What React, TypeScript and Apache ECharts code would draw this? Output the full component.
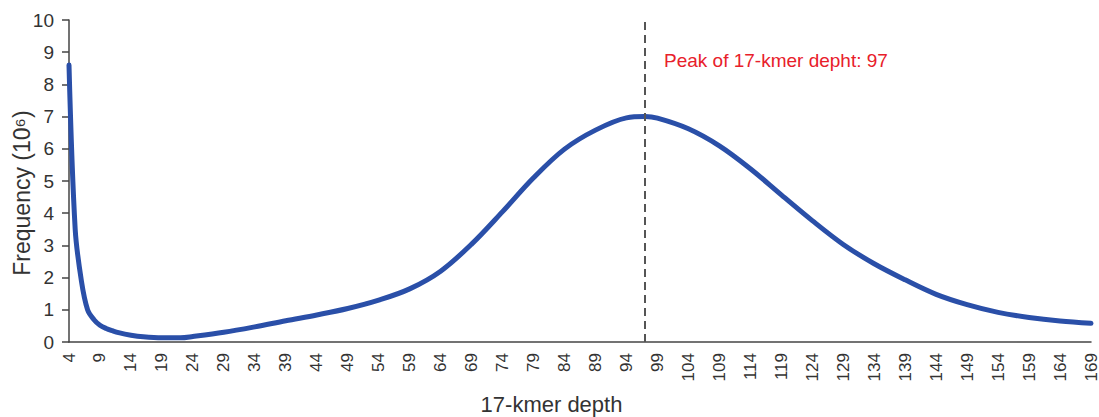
import React, { useEffect, useRef } from "react";
import * as echarts from "echarts";

const depthCategories: string[] = Array.from({ length: 166 }, (_, i) => String(i + 4));

const sampleDepths: number[] = [
  4, 5, 6, 7, 8, 9, 10, 11, 12, 14, 16, 19, 22, 24, 29, 34, 39, 44, 49, 54, 59, 64,
  69, 74, 79, 84, 89, 94, 97, 99, 104, 109, 114, 119, 124, 129, 134, 139, 144, 149,
  154, 159, 164, 169,
];
const frequencyValues: number[] = [
  8.6, 3.5, 1.9, 1.0, 0.7, 0.52, 0.42, 0.35, 0.29, 0.21, 0.16, 0.13, 0.13, 0.17, 0.3,
  0.47, 0.66, 0.84, 1.04, 1.3, 1.65, 2.2, 3.04, 4.05, 5.1, 5.99, 6.58, 6.96, 7.0, 6.95,
  6.62, 6.09, 5.38, 4.57, 3.77, 3.03, 2.43, 1.93, 1.48, 1.16, 0.92, 0.76, 0.65, 0.58,
];
const peakDepth = "97";
const peakLabel = "Peak of 17-kmer depht: 97";

export default function App() {
  const ref = useRef<HTMLDivElement>(null);
  useEffect(() => {
    if (!ref.current) return;
    const chart = echarts.init(ref.current, undefined, { renderer: "svg" });
    const font = "Liberation Sans, Arial, sans-serif";
    chart.setOption({
      animation: false,
      grid: {
        left: 69,
        right: 8,
        top: 20,
        bottom: 75,
        containLabel: false,
        outerBoundsMode: "none",
      },
      xAxis: {
        type: "category",
        data: depthCategories,
        boundaryGap: false,
        name: "17-kmer depth",
        nameLocation: "middle",
        nameGap: 51,
        nameMoveOverlap: false,
        nameTextStyle: { fontFamily: font, fontSize: 22, color: "#333", padding: [0, 57, 0, 0] },
        axisLine: { lineStyle: { color: "#444", width: 1.5 } },
        axisTick: { show: false },
        axisLabel: {
          interval: 4,
          rotate: 90,
          margin: 11,
          fontFamily: font,
          fontSize: 17,
          color: "#333",
        },
        splitLine: { show: false },
      },
      yAxis: {
        type: "value",
        min: 0,
        max: 10,
        interval: 1,
        name: "Frequency (10⁶)",
        nameLocation: "middle",
        nameGap: 36,
        nameMoveOverlap: false,
        nameTextStyle: { fontFamily: font, fontSize: 23, color: "#333", padding: [0, 24, 0, 0] },
        axisLine: { show: true, lineStyle: { color: "#444", width: 1.5 } },
        axisTick: { show: true, length: 7, lineStyle: { color: "#444", width: 1.5 } },
        axisLabel: { margin: 15, fontFamily: font, fontSize: 19, color: "#333" },
        splitLine: { show: false },
      },
      series: [
        {
          type: "line",
          data: sampleDepths.map((d, i) => [String(d), frequencyValues[i]]),
          smooth: 0.35,
          showSymbol: false,
          lineStyle: { color: "#2a4fa8", width: 5, cap: "round", join: "round" },
          markLine: {
            silent: true,
            symbol: "none",
            label: { show: false },
            lineStyle: { color: "#555", width: 2, type: [8, 5] },
            data: [{ xAxis: peakDepth }],
          },
        },
      ],
      graphic: [
        {
          type: "text",
          left: 664,
          top: 51,
          style: {
            text: peakLabel,
            fill: "#e8202a",
            font: `19px ${font}`,
          },
        },
      ],
    });
    return () => chart.dispose();
  }, []);
  return (
    <div
      ref={ref}
      style={{ position: "fixed", left: 0, top: 0, width: 1099, height: 417, background: "#fff" }}
    />
  );
}
